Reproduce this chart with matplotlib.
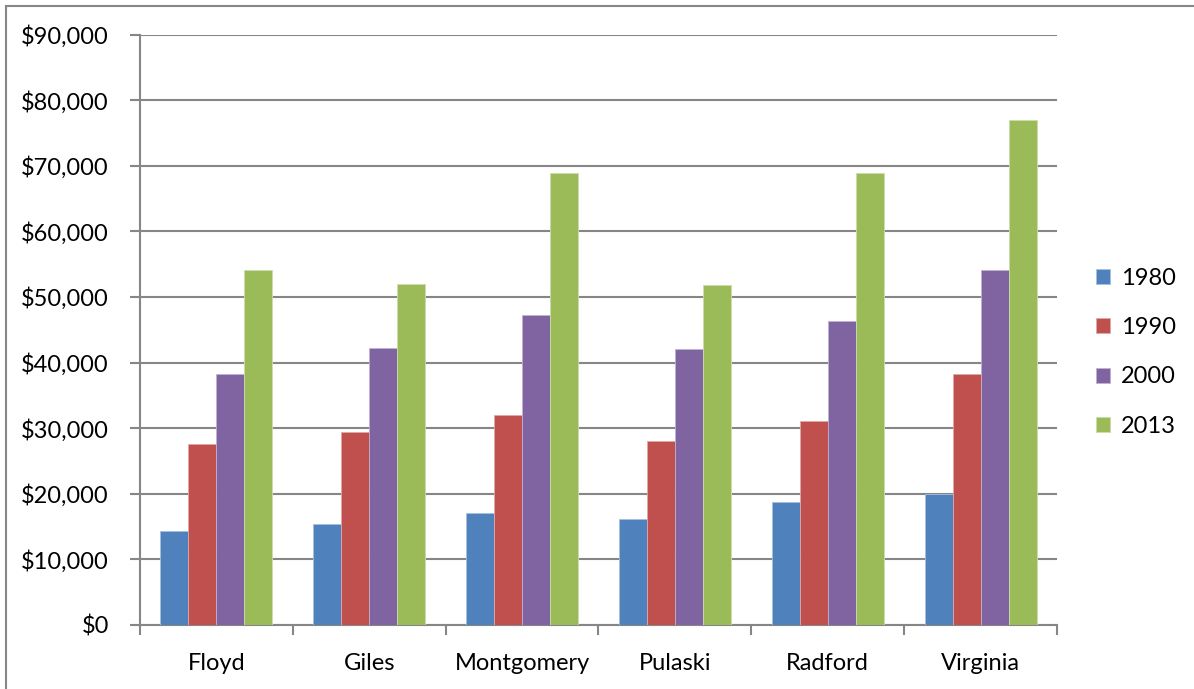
import numpy as np
import matplotlib.pyplot as plt
from matplotlib.patches import Rectangle
from matplotlib.ticker import FuncFormatter

# Income by locality and year
localities = ['Floyd', 'Giles', 'Montgomery', 'Pulaski', 'Radford', 'Virginia']
years = ['1980', '1990', '2000', '2013']
inc_1980 = [14400, 15400, 17100, 16200, 18700, 20000]
inc_1990 = [27600, 29400, 32000, 28000, 31100, 38200]
inc_2000 = [38300, 42200, 47200, 42000, 46400, 54100]
inc_2013 = [54100, 52000, 68900, 51800, 68900, 76900]

series = [inc_1980, inc_1990, inc_2000, inc_2013]
colors = ['#4F81BD', '#C0504D', '#8064A2', '#9BBB59']
edges = ['#A7C0DE', '#DFA8A6', '#BFB1D0', '#CDDDAC']

plt.rcParams['font.family'] = ['Lato', 'DejaVu Sans']

W, H = 1194, 689
fig = plt.figure(figsize=(W / 100, H / 100), dpi=100)

# chart border
fig.patches.append(Rectangle((6 / W, -0.1), 1.2, (H - 6) / H + 0.1,
                             transform=fig.transFigure, fill=False,
                             edgecolor='#868686', linewidth=1.5))

ax = fig.add_axes([140 / W, 1 - 625 / H, (1057 - 140) / W, (625 - 34.5) / H])

x = np.arange(len(localities))
bw = 0.183
for i, (vals, c, ec) in enumerate(zip(series, colors, edges)):
    ax.bar(x + (i - 1.5) * bw, vals, width=bw, color=c, edgecolor=ec,
           linewidth=0.6, label=years[i], zorder=3)

ax.set_xlim(-0.5, len(localities) - 0.5)
ax.set_ylim(0, 90000)
ax.set_yticks(np.arange(0, 90001, 10000))
ax.yaxis.set_major_formatter(FuncFormatter(lambda v, p: f'${v:,.0f}'))
ax.yaxis.grid(True, color='#868686', linewidth=1.5, zorder=0)

ax.set_xticks(x)
ax.set_xticklabels(localities)
ax.set_xticks(np.arange(-0.5, len(localities)), minor=True)
ax.tick_params(axis='x', which='major', length=0, pad=20, labelsize=17)
ax.tick_params(axis='x', which='minor', length=7, width=1.5, color='#868686')
ax.tick_params(axis='y', length=7, width=1.5, color='#868686', pad=15.5, labelsize=17)

for s in ['top', 'right']:
    ax.spines[s].set_visible(False)
for s in ['left', 'bottom']:
    ax.spines[s].set_color('#868686')
    ax.spines[s].set_linewidth(1.5)

leg = ax.legend(loc='center left', bbox_to_anchor=(1.030, 0.462), frameon=False,
                fontsize=17, handlelength=0.6, handleheight=0.6,
                handletextpad=0.45, labelspacing=1.2, borderpad=0)

fig.savefig('out.png', dpi=100)
